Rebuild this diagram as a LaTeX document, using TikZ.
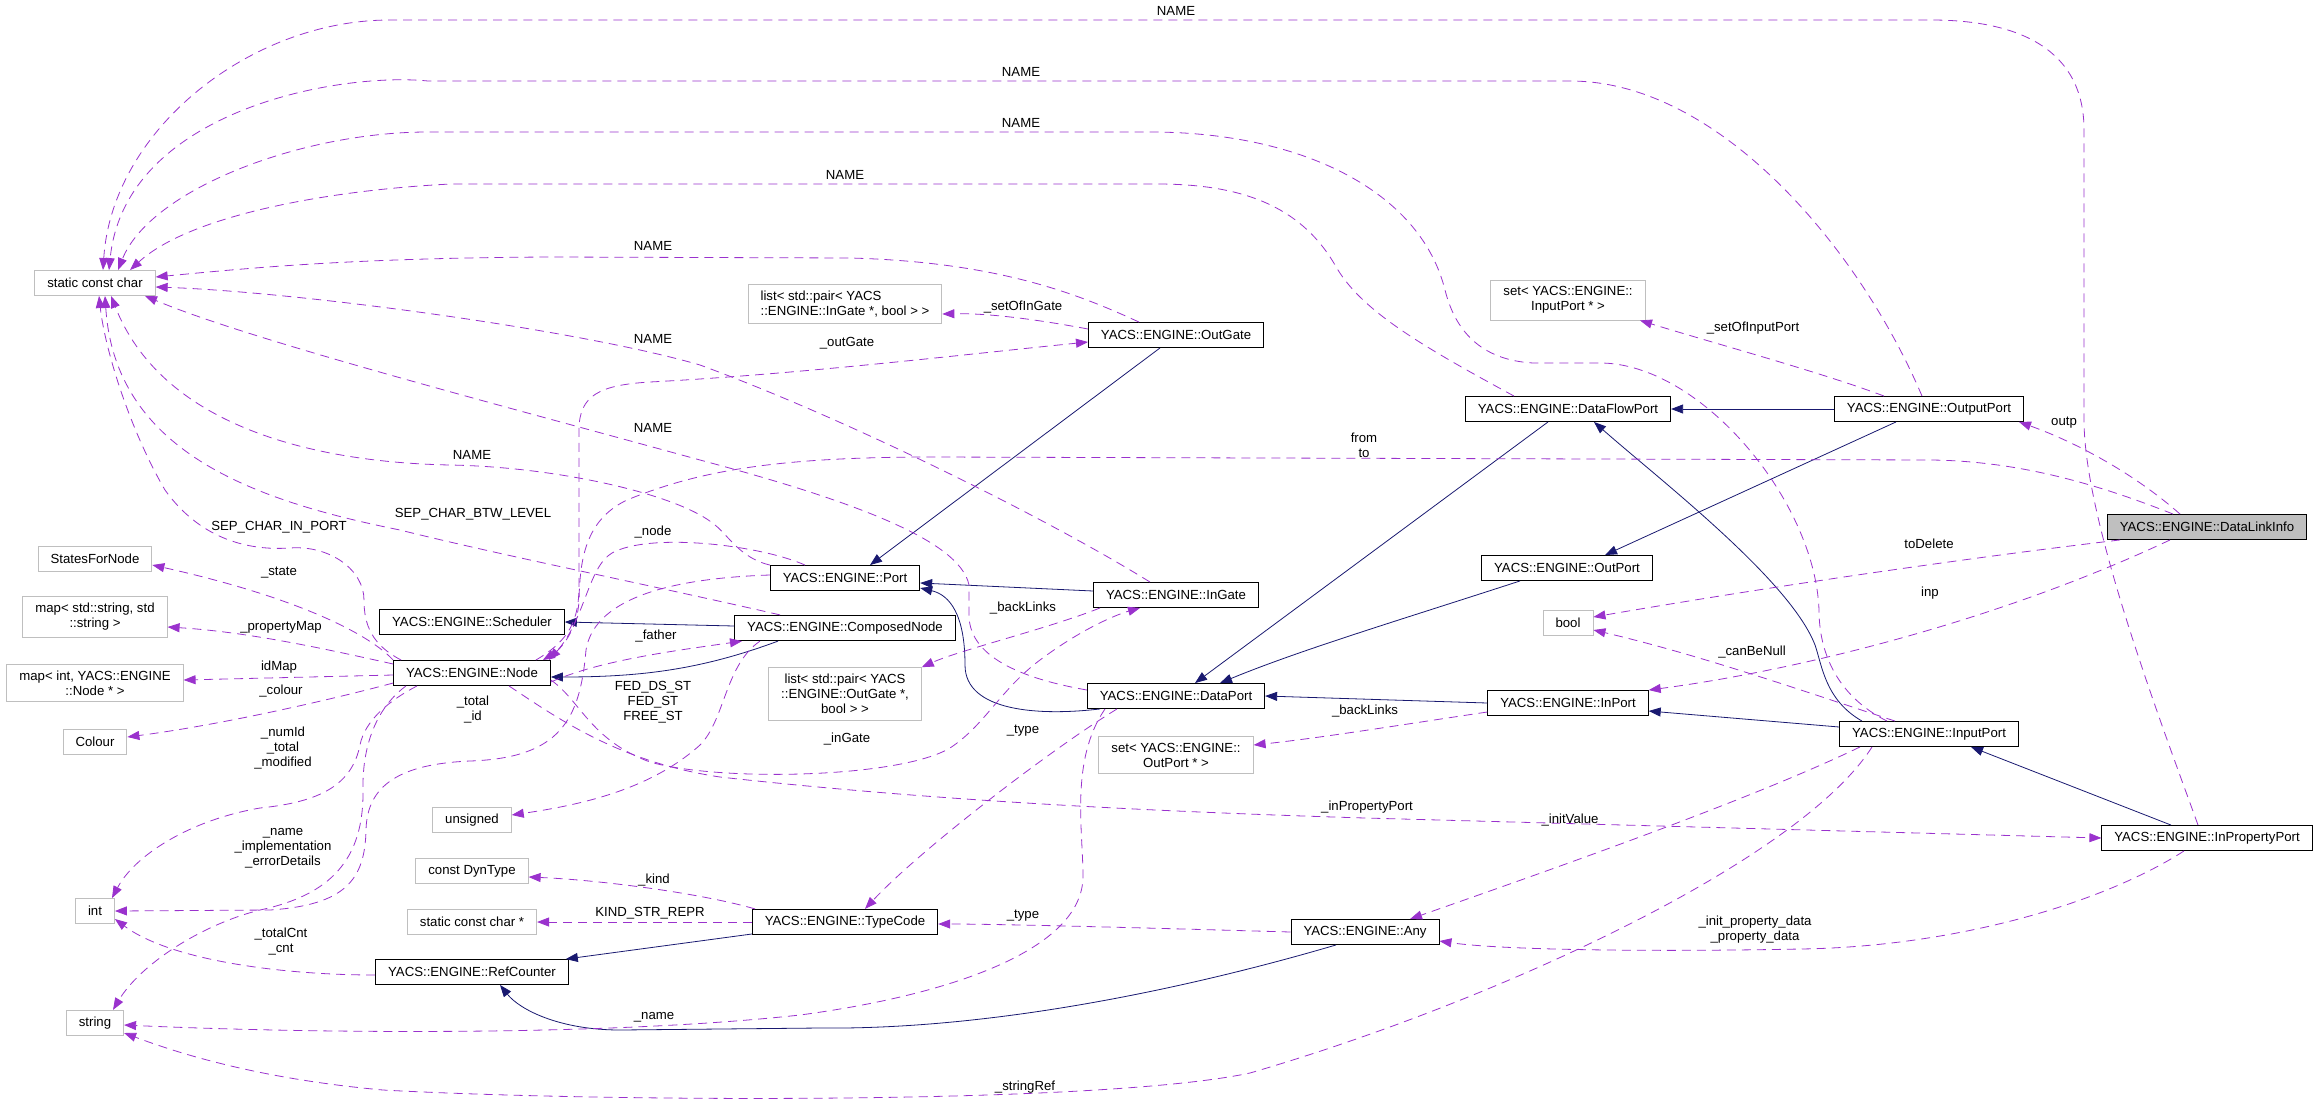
\documentclass[tikz,border=0pt]{standalone}
\usepackage{fontspec}
\setmainfont{Liberation Sans}
\definecolor{DepPurple}{HTML}{9A32CD}
\definecolor{BaseBlue}{HTML}{191970}
\definecolor{ExtGrey}{HTML}{BFBFBF}
\usetikzlibrary{arrows.meta}

\begin{document}
\begin{tikzpicture}[
  x=1pt, y=-1pt,
  cls/.style={draw=black, line width=0.9pt, fill=#1, align=center,
    font=\fontsize{13.2}{15}\selectfont, inner xsep=12.5pt, inner ysep=6.5pt,
    minimum height=25pt},
  cls/.default=white,
  ext/.style={cls, draw=ExtGrey},
  dep/.style={draw=DepPurple, line width=0.8pt, dash pattern=on 9pt off 6pt,
    -{Triangle[length=12pt, width=9pt]}},
  inh/.style={draw=BaseBlue, line width=0.8pt, -{Triangle[length=12pt, width=9pt]}},
  lbl/.style={font=\fontsize{13.2}{15}\selectfont, inner sep=0pt, align=center}
]
\useasboundingbox (0,0) rectangle (2317,1100);

% Left column: plain types
\node[ext] (scc) at (95,283) {static const char};
\node[ext] (states) at (95,559) {StatesForNode};
\node[ext] (mapstr) at (95,617) {map\textless{} std::string, std\\::string \textgreater};
\node[ext] (mapint) at (95,683) {map\textless{} int, YACS::ENGINE\\::Node * \textgreater};
\node[ext] (colour) at (95,742) {Colour};
\node[ext] (int) at (95,911) {int};
\node[ext] (string) at (95,1023) {string};

% Second column
\node[cls] (sched) at (472,622) {YACS::ENGINE::Scheduler};
\node[cls] (node) at (472,673) {YACS::ENGINE::Node};
\node[ext] (unsig) at (472,820) {unsigned};
\node[ext] (dyn) at (472,871) {const DynType};
\node[ext] (sccp) at (472,922) {static const char *};
\node[cls] (refc) at (472,972) {YACS::ENGINE::RefCounter};

% Third column
\node[ext, align=left] (listin) at (845,304) {list\textless{} std::pair\textless{} YACS\\::ENGINE::InGate *, bool \textgreater{} \textgreater};
\node[cls] (port) at (845,578) {YACS::ENGINE::Port};
\node[cls] (comp) at (845,628) {YACS::ENGINE::ComposedNode};
\node[ext] (listout) at (845,694) {list\textless{} std::pair\textless{} YACS\\::ENGINE::OutGate *,\\bool \textgreater{} \textgreater};
\node[cls] (tcode) at (845,922) {YACS::ENGINE::TypeCode};

% Fourth column
\node[cls] (outgate) at (1176,335) {YACS::ENGINE::OutGate};
\node[cls] (ingate) at (1176,595) {YACS::ENGINE::InGate};
\node[cls] (dport) at (1176,696) {YACS::ENGINE::DataPort};
\node[ext] (setout) at (1176,755) {set\textless{} YACS::ENGINE::\\OutPort * \textgreater};
\node[cls] (any) at (1365,932) {YACS::ENGINE::Any};

% Fifth column
\node[ext] (setin) at (1568,300) {set\textless{} YACS::ENGINE::\\InputPort * \textgreater};
\node[cls] (dfport) at (1568,409) {YACS::ENGINE::DataFlowPort};
\node[cls] (outport) at (1567,568) {YACS::ENGINE::OutPort};
\node[ext] (bool) at (1568,623) {bool};
\node[cls] (inport) at (1568,703) {YACS::ENGINE::InPort};

% Right columns
\node[cls] (outputp) at (1929,409) {YACS::ENGINE::OutputPort};
\node[cls] (inputp) at (1929,734) {YACS::ENGINE::InputPort};
\node[cls=ExtGrey] (dli) at (2207,527) {YACS::ENGINE::DataLinkInfo};
\node[cls] (inprop) at (2207,838) {YACS::ENGINE::InPropertyPort};

% Inheritance
\draw[inh] ([xshift=-67pt]comp.south) .. controls (700,670) and (640,677) .. ([yshift=-4pt]node.east);
\draw[inh] ([yshift=2pt]comp.west) -- (sched.east);
\draw[inh] ([xshift=-16pt]outgate.south) -- ([xshift=25pt]port.north);
\draw[inh] ([yshift=4pt]ingate.west) -- ([yshift=-5pt]port.east);
\draw[inh] ([xshift=-76pt]dport.south) .. controls (1040,716) and (965,712) .. (965,665)
  .. controls (965,615) and (950,595) .. ([yshift=-10pt]port.east);
\draw[inh] ([xshift=-20pt]dfport.south) -- ([xshift=19pt]dport.north);
\draw[inh] ([xshift=-47pt]outport.south) .. controls (1400,620) and (1300,650) .. ([xshift=44pt]dport.north);
\draw[inh] (inport.west) -- (dport.east);
\draw[inh] (outputp.west) -- (dfport.east);
\draw[inh] ([xshift=-33pt]outputp.south) -- ([xshift=38pt]outport.north);
\draw[inh] ([xshift=-67pt]inputp.north) .. controls (1825,700) and (1822,665) .. (1815,645)
  .. controls (1790,580) and (1660,480) .. ([xshift=26pt]dfport.south);
\draw[inh] ([yshift=7pt]inputp.west) -- ([yshift=-8pt]inport.east);
\draw[inh] ([xshift=-36pt]inprop.north) -- ([xshift=42pt]inputp.south);
\draw[inh] ([yshift=-12pt]tcode.west) -- ([xshift=-3pt]refc.north east);
\draw[inh] ([xshift=-29pt]any.south) .. controls (1200,985) and (1000,1030) .. (820,1028)
  -- (620,1030) .. controls (560,1030) and (520,1010) .. ([xshift=28pt]refc.south);

% NAME and separators
\draw[dep] ([xshift=-9pt]inprop.north) .. controls (2160,720) and (2084,520) .. (2084,420)
  -- (2084,130) .. controls (2084,50) and (2020,20) .. (1931,20) -- (390,20)
  .. controls (250,20) and (112,130) .. ([xshift=8pt]scc.north)
  node[lbl] at (1176,11) {NAME};
\draw[dep] ([xshift=-7pt]outputp.north) .. controls (1860,250) and (1720,81) .. (1570,81)
  -- (428,81) .. controls (340,72) and (125,110) .. ([xshift=14pt]scc.north)
  node[lbl] at (1021,72) {NAME};
\draw[dep] ([xshift=-42pt]inputp.north) .. controls (1835,695) and (1819,650) .. (1819,610)
  .. controls (1815,500) and (1700,363) .. (1600,363) -- (1533,363)
  .. controls (1480,360) and (1455,330) .. (1445,290)
  .. controls (1420,190) and (1300,132) .. (1150,132) -- (428,132)
  .. controls (300,132) and (150,190) .. ([xshift=23pt]scc.north)
  node[lbl] at (1021,123) {NAME};
\draw[dep] ([xshift=-54pt]dfport.north) .. controls (1420,345) and (1360,310) .. (1335,265)
  .. controls (1300,205) and (1240,184) .. (1157,184) -- (451,184)
  .. controls (330,190) and (190,215) .. ([xshift=35pt]scc.north)
  node[lbl] at (845,175) {NAME};
\draw[dep] ([xshift=-37pt]outgate.north) .. controls (1080,295) and (1000,262) .. (850,258)
  -- (550,257) .. controls (350,258) and (250,268) .. ([yshift=6pt]scc.east)
  node[lbl] at (653,246) {NAME};
\draw[dep] ([xshift=-26pt]ingate.north) .. controls (1050,520) and (850,420) .. (700,365)
  .. controls (580,330) and (300,292) .. ([yshift=-4pt]scc.east)
  node[lbl] at (653,339) {NAME};
\draw[dep] ([yshift=6pt]dport.west) .. controls (1030,680) and (969,660) .. (969,615)
  -- (969,585) .. controls (960,540) and (850,500) .. (700,460)
  .. controls (500,405) and (250,340) .. ([xshift=50pt]scc.south)
  node[lbl] at (653,428) {NAME};
\draw[dep] (port.north west) .. controls (740,558) and (728,535) .. (715,525)
  .. controls (680,495) and (560,467) .. (450,465)
  .. controls (300,462) and (160,420) .. ([xshift=16pt]scc.south)
  node[lbl] at (472,455) {NAME};
\draw[dep] ([xshift=-65pt]comp.north) .. controls (650,585) and (500,555) .. (400,530)
  .. controls (250,500) and (115,450) .. ([xshift=10pt]scc.south)
  node[lbl] at (473,514) {SEP\_CHAR\_BTW\_LEVEL};
\draw[dep] ([xshift=8pt]node.north west) .. controls (372,645) and (364,625) .. (364,600)
  .. controls (364,570) and (330,545) .. (290,548)
  .. controls (230,552) and (190,525) .. (165,490)
  .. controls (130,430) and (105,350) .. ([xshift=4pt]scc.south)
  node[lbl] at (279,527) {SEP\_CHAR\_IN\_PORT};

% Node members
\draw[dep] (node.north west) .. controls (370,635) and (300,598) .. ([yshift=-6pt]states.east)
  node[lbl] at (279,573) {\_state};
\draw[dep] ([yshift=9pt]node.west) .. controls (330,650) and (250,632) .. ([yshift=-10pt]mapstr.east)
  node[lbl] at (281,627) {\_propertyMap};
\draw[dep] ([yshift=-2pt]node.west) -- ([yshift=3pt]mapint.east)
  node[lbl] at (279,667) {idMap};
\draw[dep] ([yshift=-10pt]node.west) .. controls (330,700) and (220,725) .. ([yshift=5pt]colour.east)
  node[lbl] at (281,691) {\_colour};
\draw[dep] ([xshift=-55pt]node.south) .. controls (390,700) and (365,720) .. (360,745)
  .. controls (352,785) and (320,802) .. (260,808)
  .. controls (190,820) and (135,855) .. ([xshift=17pt]int.north)
  node[lbl] at (283,748) {\_numId\\\_total\\\_modified};
\draw[dep] ([xshift=-66pt]node.south) .. controls (380,705) and (362,740) .. (363,790)
  .. controls (364,860) and (330,895) .. (260,910)
  .. controls (200,925) and (140,965) .. ([xshift=18pt]string.north)
  node[lbl] at (283,848) {\_name\\\_implementation\\\_errorDetails};
\draw[dep] ([yshift=-9pt]node.east) .. controls (600,660) and (680,650) .. ([xshift=-103pt]comp.south)
  node[lbl] at (656,636) {\_father};
\draw[dep] ([xshift=-15pt]node.north east) .. controls (570,640) and (579,620) .. (579,585)
  -- (579,430) .. controls (579,395) and (600,385) .. (650,382)
  .. controls (800,374) and (950,356) .. ([yshift=-7pt]outgate.west)
  node[lbl] at (847,343) {\_outGate};
\draw[dep] ([yshift=-7pt]node.east) .. controls (580,700) and (590,740) .. (650,762)
  .. controls (720,782) and (900,778) .. (950,748)
  .. controls (985,725) and (1000,690) .. (1040,660)
  .. controls (1080,630) and (1115,615) .. ([xshift=-36pt]ingate.south)
  node[lbl] at (847,739) {\_inGate};
\draw[dep] ([xshift=37pt]node.south) .. controls (560,720) and (620,762) .. (720,777)
  .. controls (900,797) and (1100,810) .. (1365,818) -- (inprop.west)
  node[lbl] at (1367,807) {\_inPropertyPort};

% ComposedNode, Port and gates
\draw[dep] ([xshift=-85pt]comp.south) .. controls (725,665) and (725,720) .. (700,745)
  .. controls (650,790) and (580,805) .. ([yshift=5pt]unsig.east)
  node[lbl] at (653,702) {FED\_DS\_ST\\FED\_ST\\FREE\_ST};
\draw[dep] ([xshift=-40pt]port.north) .. controls (760,545) and (650,532) .. (612,553)
  .. controls (588,567) and (585,620) .. ([xshift=-2pt]node.north east)
  node[lbl] at (653,532) {\_node};
\draw[dep] ([yshift=3pt]port.west) .. controls (680,578) and (595,595) .. (586,650)
  .. controls (580,720) and (560,758) .. (470,761)
  .. controls (400,764) and (367,785) .. (366,830)
  .. controls (365,880) and (345,905) .. (270,910) -- (int.east)
  node[lbl] at (473,710) {\_total\\\_id};
\draw[dep] ([yshift=6pt]outgate.west) .. controls (1040,320) and (990,313) .. ([yshift=-10pt]listin.east)
  node[lbl] at (1023,307) {\_setOfInGate};
\draw[dep] ([xshift=-76pt]ingate.south) .. controls (1050,628) and (960,650) .. (listout.north east)
  node[lbl] at (1023,608) {\_backLinks};

% Ports
\draw[dep] ([xshift=-59pt]dport.south) .. controls (1050,750) and (920,850) .. ([xshift=20pt]tcode.north)
  node[lbl] at (1023,731) {\_type};
\draw[dep] ([xshift=-71pt]dport.south) .. controls (1070,760) and (1083,830) .. (1083,877)
  .. controls (1082,950) and (950,995) .. (800,1015)
  .. controls (600,1037) and (300,1033) .. ([yshift=-2pt]string.east)
  node[lbl] at (654,1017) {\_name};
\draw[dep] ([yshift=-9pt]inport.west) .. controls (1400,725) and (1320,738) .. ([yshift=10pt]setout.east)
  node[lbl] at (1365,711) {\_backLinks};
\draw[dep] ([xshift=-45pt]outputp.north) .. controls (1820,372) and (1720,345) .. ([xshift=72pt]setin.south)
  node[lbl] at (1753,328) {\_setOfInputPort};
\draw[dep] ([xshift=-34pt]inputp.north) .. controls (1800,690) and (1700,655) .. ([yshift=-7pt]bool.east)
  node[lbl] at (1752,652) {\_canBeNull};
\draw[dep] ([xshift=-69pt]inputp.south) .. controls (1750,800) and (1550,870) .. ([xshift=45pt]any.north)
  node[lbl] at (1570,820) {\_initValue};
\draw[dep] ([xshift=-57pt]inputp.south) .. controls (1800,860) and (1500,1000) .. (1250,1073)
  .. controls (1100,1105) and (600,1102) .. (383,1090)
  .. controls (250,1078) and (170,1050) .. ([yshift=-10pt]string.east)
  node[lbl] at (1025,1087) {\_stringRef};
\draw[dep] ([xshift=-23pt]inprop.south) .. controls (2100,905) and (1950,947) .. (1800,949)
  .. controls (1650,952) and (1500,950) .. ([yshift=-9pt]any.east)
  node[lbl] at (1755,930) {\_init\_property\_data\\\_property\_data};

% DataLinkInfo members
\draw[dep] ([xshift=-27pt]dli.north) .. controls (2130,470) and (2070,440) .. ([xshift=-5pt]outputp.south east)
  node[lbl] at (2064,423) {outp};
\draw[dep] ([xshift=-87pt]dli.south) .. controls (1950,560) and (1750,590) .. ([yshift=6pt]bool.east)
  node[lbl] at (1929,544) {toDelete};
\draw[dep] ([xshift=-37pt]dli.south) .. controls (2000,620) and (1800,670) .. (inport.north east)
  node[lbl] at (1930,593) {inp};
\draw[dep] ([xshift=-34pt]dli.north) .. controls (2100,485) and (2020,461) .. (1931,460)
  -- (933,457) .. controls (780,457) and (700,470) .. (627,500)
  .. controls (585,520) and (580,560) .. (579,600)
  .. controls (578,630) and (560,650) .. ([xshift=-8pt]node.north east)
  node[lbl] at (1364,445) {from\\to};

% TypeCode, Any, RefCounter
\draw[dep] ([xshift=-90pt]tcode.north) .. controls (700,893) and (600,880) .. ([yshift=-6pt]dyn.east)
  node[lbl] at (654,880) {\_kind};
\draw[dep] (tcode.west) -- (sccp.east)
  node[lbl] at (650,913) {KIND\_STR\_REPR};
\draw[dep] (any.west) .. controls (1150,928) and (1000,924) .. ([yshift=-2pt]tcode.east)
  node[lbl] at (1023,916) {\_type};
\draw[dep] ([yshift=-3pt]refc.west) .. controls (280,975) and (170,960) .. ([yshift=-8pt]int.east)
  node[lbl] at (281,942) {\_totalCnt\\\_cnt};

\end{tikzpicture}
\end{document}
